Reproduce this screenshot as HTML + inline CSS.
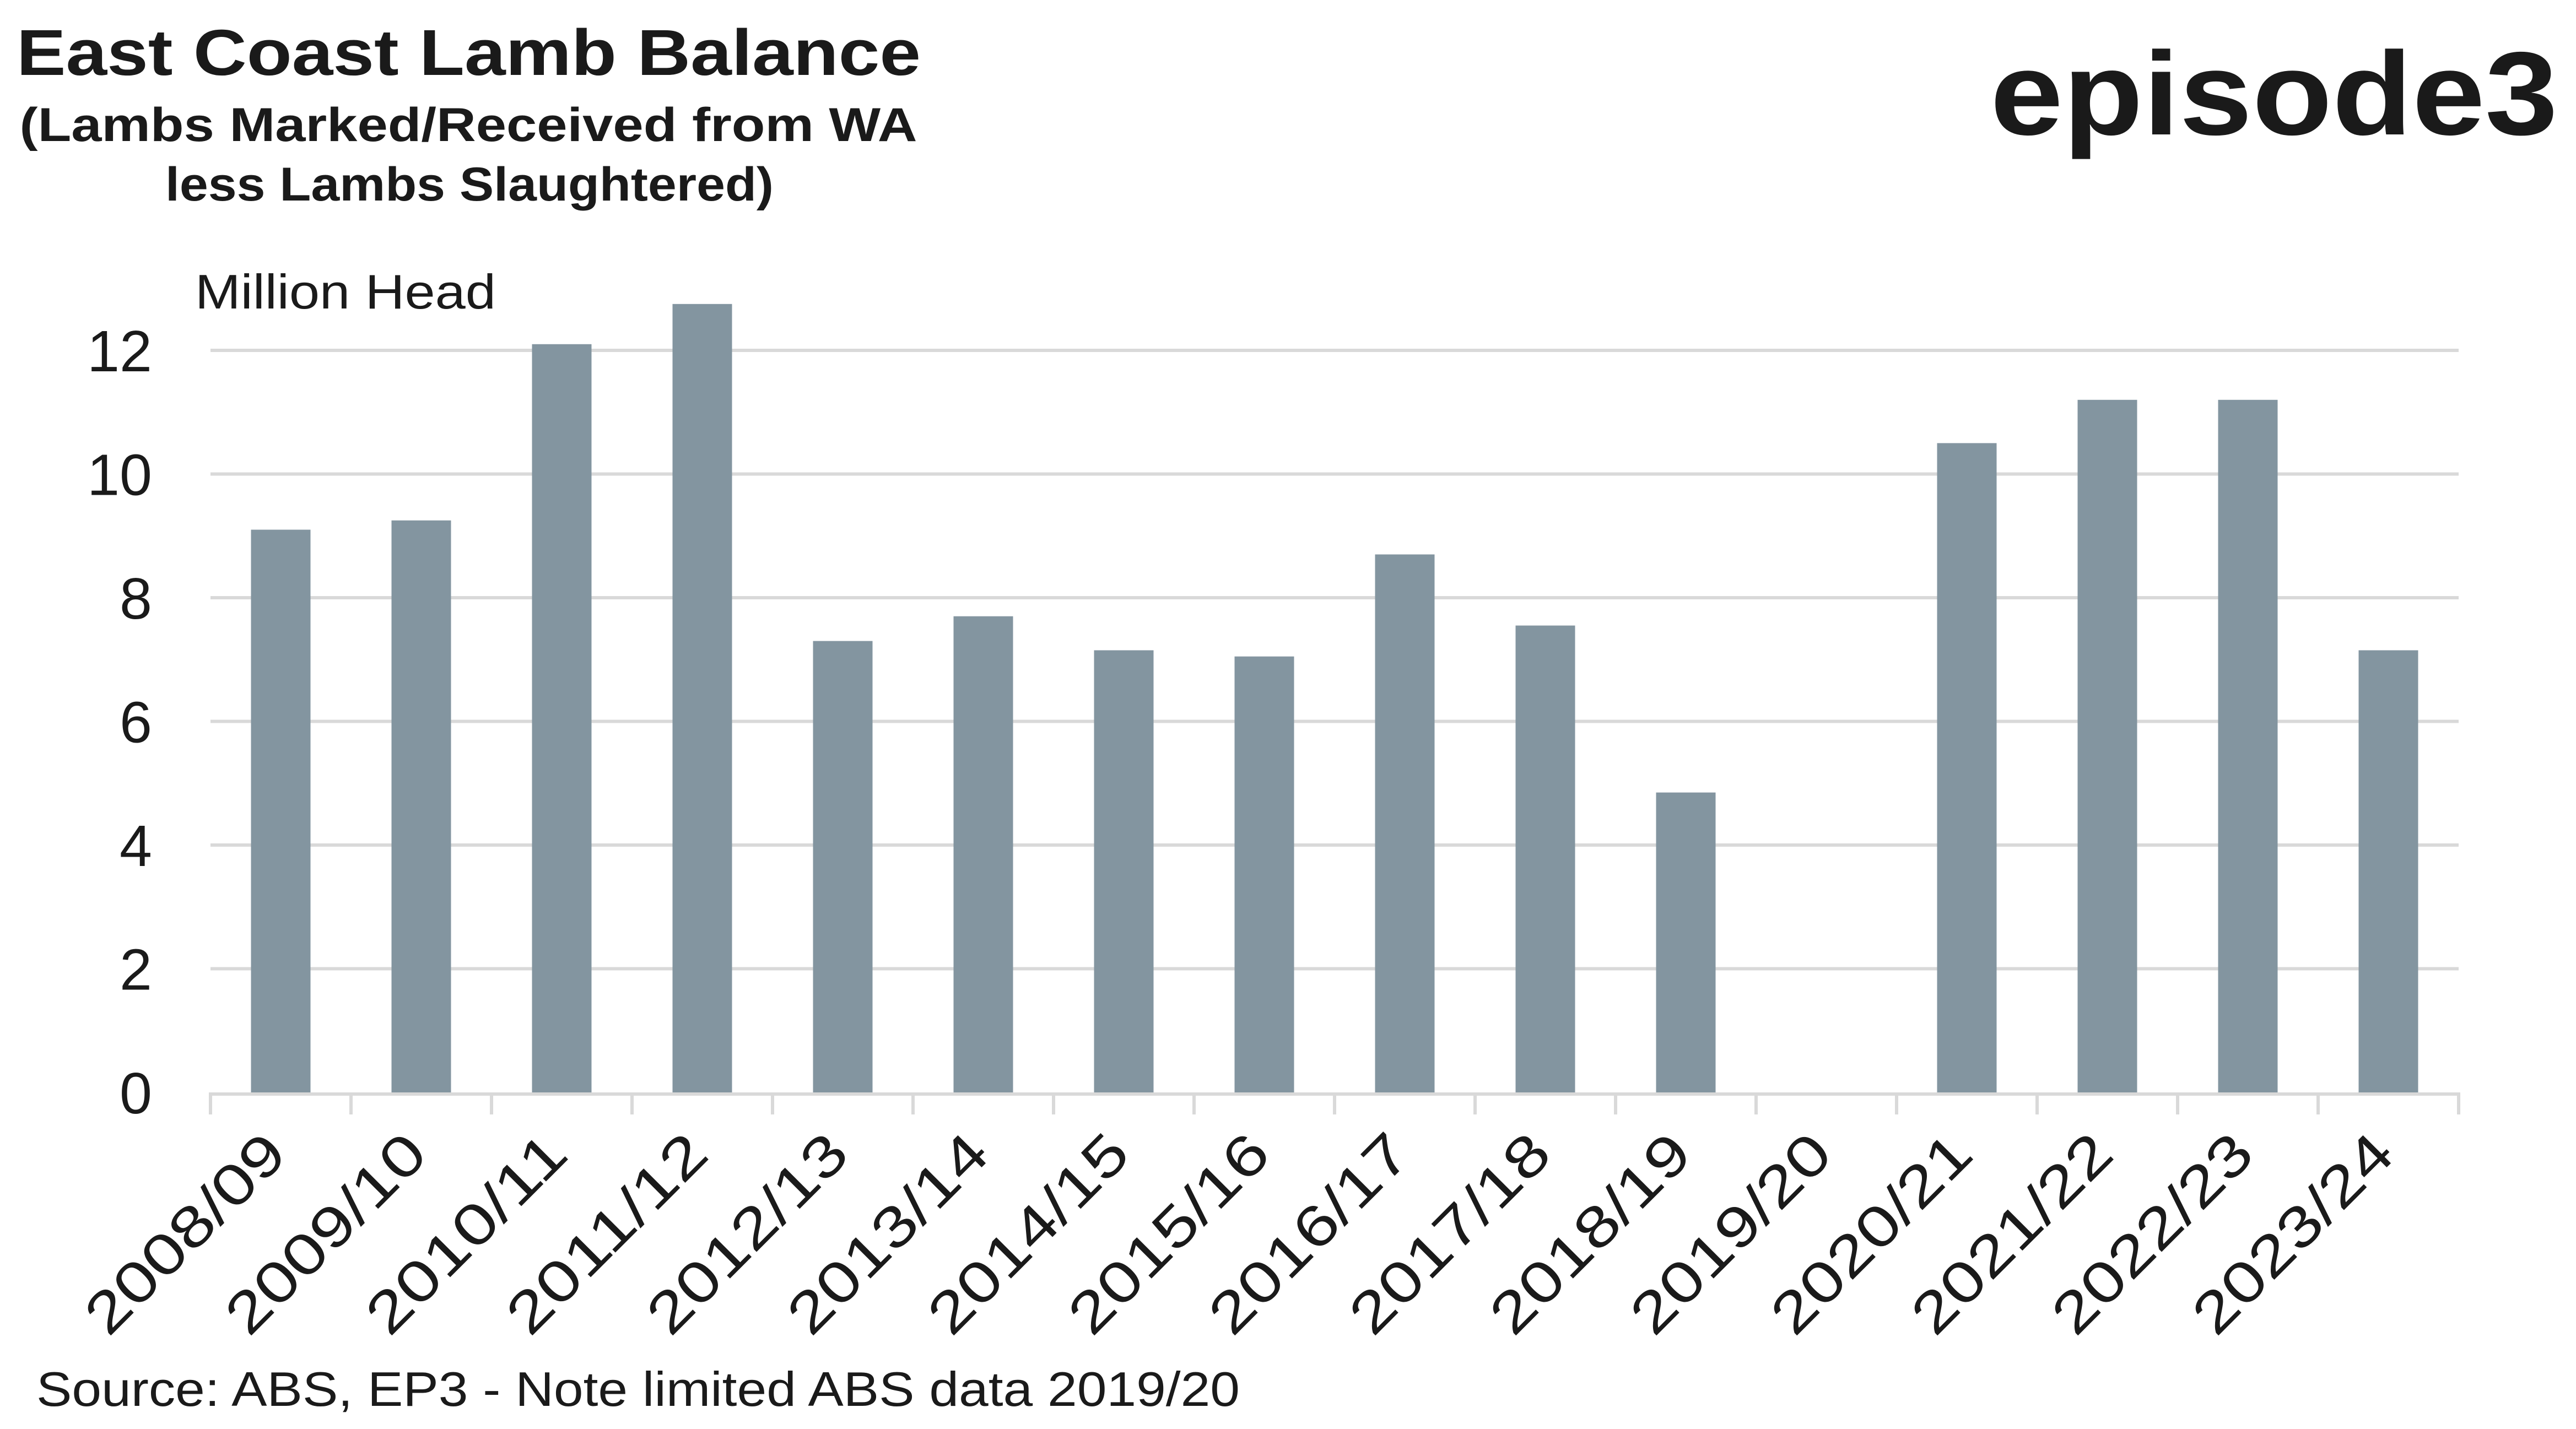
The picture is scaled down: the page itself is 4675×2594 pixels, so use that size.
<!DOCTYPE html>
<html><head><meta charset="utf-8"><style>
html,body{margin:0;padding:0;background:#fff}
svg{display:block}
text{font-family:"Liberation Sans",sans-serif;fill:#1a1a1a}
</style></head><body>
<svg id="chart" width="4675" height="2594" viewBox="0 0 4675 2594">
<text x="30" y="136" font-size="118" font-weight="bold" textLength="1641" lengthAdjust="spacingAndGlyphs">East Coast Lamb Balance</text>
<text x="850" y="256" font-size="86" font-weight="bold" text-anchor="middle" textLength="1629" lengthAdjust="spacingAndGlyphs">(Lambs Marked/Received from WA</text>
<text x="852" y="364" font-size="86" font-weight="bold" text-anchor="middle" textLength="1104" lengthAdjust="spacingAndGlyphs">less Lambs Slaughtered)</text>
<text x="3612" y="244" font-size="215" font-weight="bold" textLength="1030" lengthAdjust="spacingAndGlyphs">episode3</text>
<text x="354" y="560" font-size="88" textLength="546" lengthAdjust="spacingAndGlyphs">Million Head</text>
<g id="grid"></g><g id="bars"></g><g id="xaxis"></g>
<text x="66" y="2552" font-size="88" textLength="2184" lengthAdjust="spacingAndGlyphs">Source: ABS, EP3 - Note limited ABS data 2019/20</text>
</svg>
<script>
const categories=["2008/09","2009/10","2010/11","2011/12","2012/13","2013/14","2014/15","2015/16","2016/17","2017/18","2018/19","2019/20","2020/21","2021/22","2022/23","2023/24"];
const values=[9.1,9.25,12.1,12.75,7.3,7.7,7.15,7.05,8.7,7.55,4.85,0,10.5,11.2,11.2,7.15];
const yTicks=[0,2,4,6,8,10,12];
const NS="http://www.w3.org/2000/svg";
const x0=382,x1=4462,y0=1983,y12=636;
const band=(x1-x0)/categories.length;
const xs=i=>x0+band*(i+0.5);
const ys=v=>y0-(v/12)*(y0-y12);
function mk(t,a,p){const e=document.createElementNS(NS,t);for(const k in a)e.setAttribute(k,a[k]);p.appendChild(e);return e;}
const grid=document.getElementById('grid'),bars=document.getElementById('bars'),xa=document.getElementById('xaxis');
yTicks.forEach(t=>{
 if(t>0){const l=mk('line',{x1:x0,x2:x1,y1:ys(t),y2:ys(t),stroke:'#d9d9d9','stroke-width':6},grid);
 
 }
 const tx=mk('text',{x:276,y:ys(t)+38,'font-size':106,'text-anchor':'end'},grid);tx.textContent=t;
 
 
});
values.forEach((v,i)=>{
 if(v<=0)return;
 const r=mk('rect',{x:xs(i)-54,y:ys(v),width:108,height:y0-ys(v),fill:'#8395a0'},bars);
 
 
});
const ax=mk('line',{x1:x0,x2:x1,y1:y0+3,y2:y0+3,stroke:'#d9d9d9','stroke-width':6},xa);


for(let i=0;i<=categories.length;i++){
 const tk=mk('line',{x1:x0+band*i,x2:x0+band*i,y1:y0,y2:y0+40,stroke:'#d9d9d9','stroke-width':6},xa);
 
 
}
categories.forEach((c,i)=>{
 const cx=xs(i)+16,cy=2100;
 const t=mk('text',{x:cx,y:cy,'font-size':104,'text-anchor':'end',textLength:465,lengthAdjust:'spacingAndGlyphs',transform:`rotate(-45 ${cx} ${cy})`},xa);t.textContent=c;
 
 
});
</script>
</body></html>
